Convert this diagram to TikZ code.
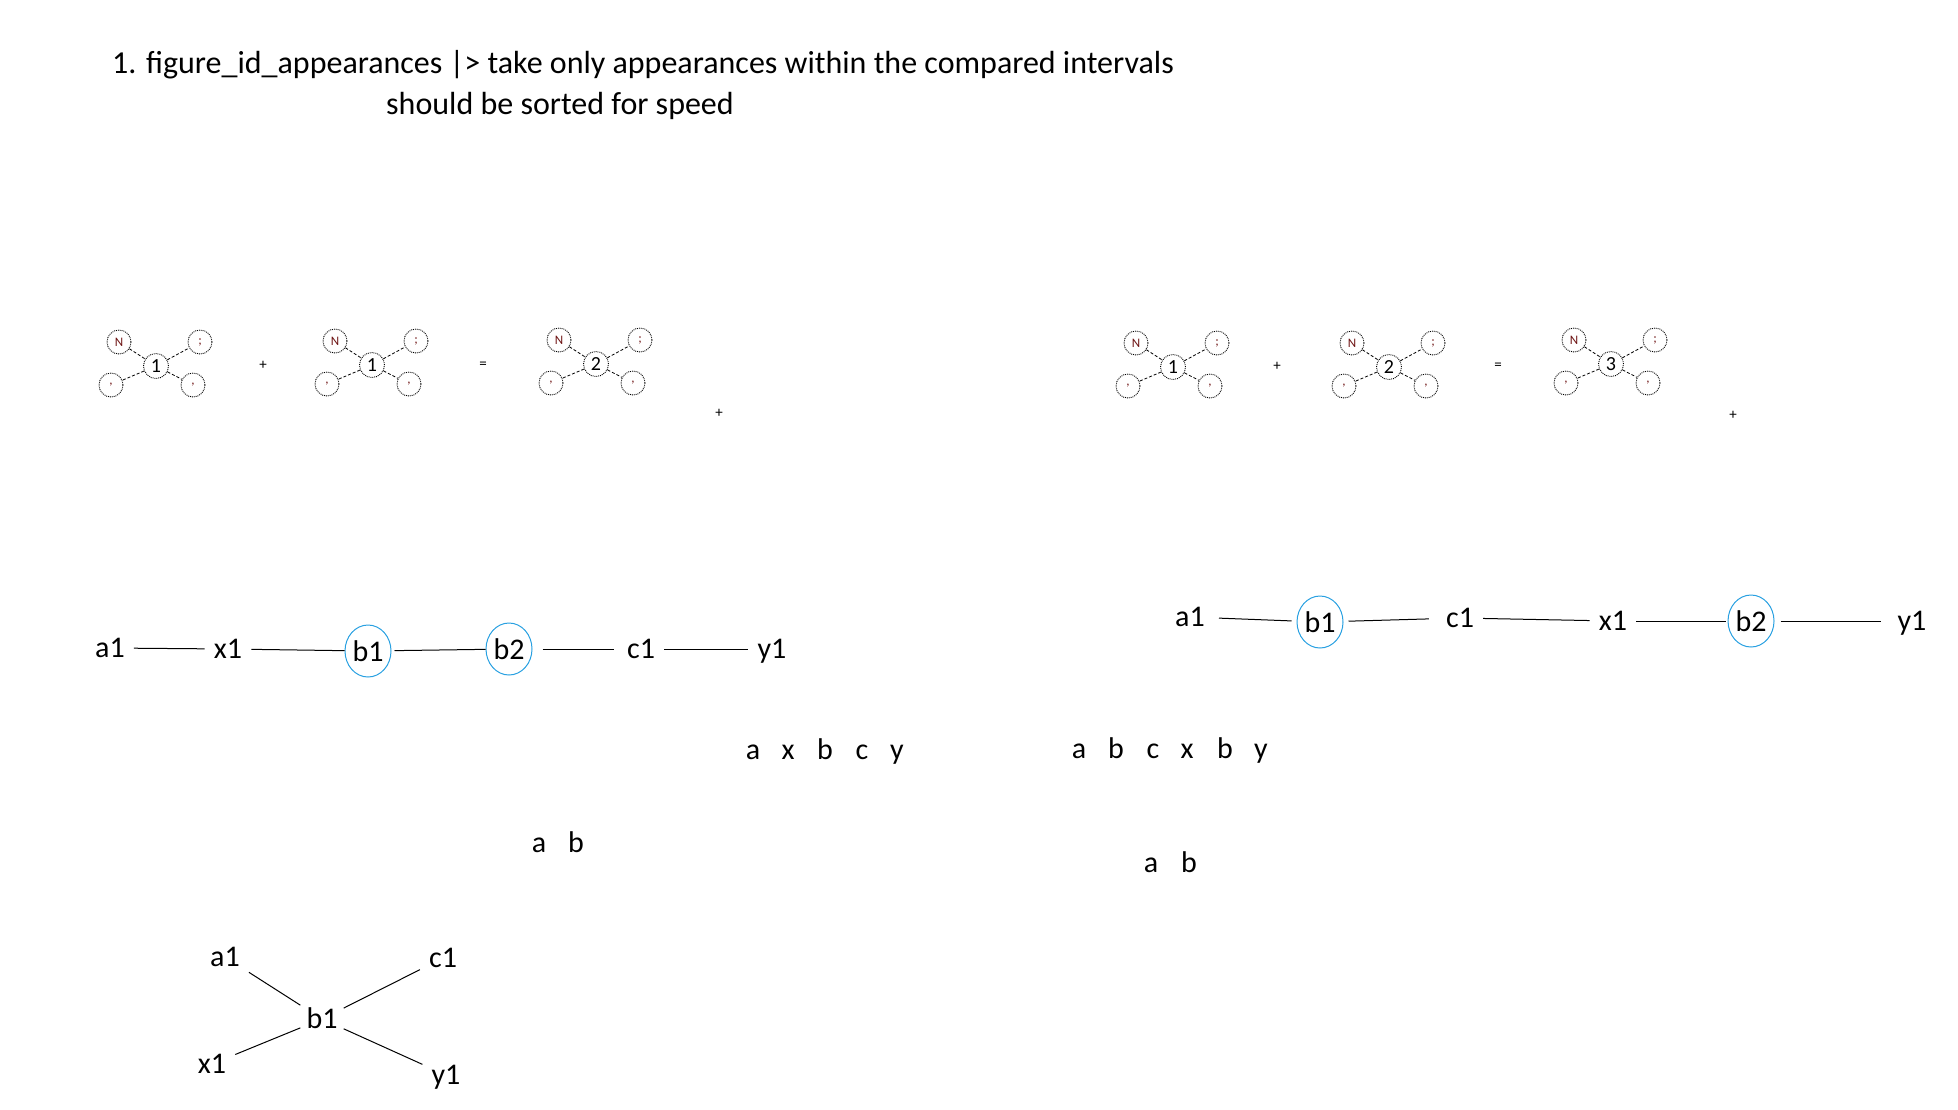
\documentclass[tikz,border=0pt]{standalone}
\usepackage{fontspec}
\setmainfont{Carlito}
\usetikzlibrary{shapes.geometric}
\definecolor{ringblue}{RGB}{40,160,225}
\definecolor{atomred}{RGB}{110,20,20}
\newcommand{\mymol}[4]{%
  \node[molc] (#1c) at (#2,#3) {#4};
  \node[mols] (#1n) at (#2-37,#3-24) {\textcolor{atomred}{N}};
  \node[mols] (#1s) at (#2+44,#3-24) {\textcolor{atomred}{;}};
  \node[mols] (#1l) at (#2-45,#3+19) {\textcolor{atomred}{,}};
  \node[mols] (#1r) at (#2+37,#3+19) {\textcolor{atomred}{,}};
  \draw[mollink] (#1n) -- (#1c);
  \draw[mollink] (#1c) -- (#1s);
  \draw[mollink] (#1c) -- (#1l);
  \draw[mollink] (#1c) -- (#1r);
}
\begin{document}
\begin{tikzpicture}[x=1pt,y=-1pt,
  title/.style={font=\fontsize{32}{38}\selectfont, inner sep=0pt, anchor=west},
  lbl/.style={font=\fontsize{30}{36}\selectfont, inner sep=9pt, text height=20pt, text depth=2pt},
  bnode/.style={ellipse, draw=ringblue, line width=1pt, minimum width=46pt, minimum height=52pt, inner sep=0pt, font=\fontsize{30}{36}\selectfont},
  link/.style={line width=1pt},
  molc/.style={circle, draw, densely dotted, line width=0.9pt, minimum size=25pt, inner sep=0pt, font=\fontsize{20}{24}\selectfont},
  mols/.style={circle, draw, densely dotted, line width=0.9pt, minimum size=24pt, inner sep=0pt, font=\fontsize{13}{15}\selectfont},
  mollink/.style={line width=0.8pt, densely dashed},
  op/.style={font=\fontsize{15}{18}\selectfont, inner sep=0pt},
  letter/.style={font=\fontsize{30}{36}\selectfont, inner sep=0pt, text height=20pt, text depth=2pt}
]
\useasboundingbox (0,0) rectangle (1958,1109);

% title
\node[title] (t1) at (112,65) {1. figure\_id\_appearances |> take only appearances within the compared intervals};
\node[title] (t2) at (386,106) {should be sorted for speed};

% molecules, left group
\mymol{ma}{156}{366}{1}
\mymol{mb}{372}{365}{1}
\mymol{mc}{596}{364}{2}
\node[op] (p1) at (263,365) {+};
\node[op] (e1) at (483,365) {=};
\node[op] (p2) at (719,413) {+};

% molecules, right group
\mymol{md}{1173}{367}{1}
\mymol{me}{1389}{367}{2}
\mymol{mf}{1611}{364}{3}
\node[op] (p3) at (1277,366) {+};
\node[op] (e2) at (1498,366) {=};
\node[op] (p4) at (1733,415) {+};

% chain 1
\node[lbl] (la1) at (110,648) {a1};
\node[lbl] (lx1) at (228,649) {x1};
\node[bnode] (lb1) at (368,651) {b1};
\node[bnode] (lb2) at (509,649) {b2};
\node[lbl] (lc1) at (641,649) {c1};
\node[lbl] (ly1) at (772,649) {y1};
\draw[link] (la1) -- (lx1);
\draw[link] (lx1) -- (lb1);
\draw[link, shorten <=3pt] (lb1) -- (lb2);
\draw[link, shorten <=10pt, shorten >=4pt] (lb2) -- (lc1);
\draw[link] (lc1) -- (ly1);

% chain 2
\node[lbl] (ra1) at (1190,617) {a1};
\node[bnode] (rb1) at (1320,622) {b1};
\node[lbl] (rc1) at (1460,618) {c1};
\node[lbl] (rx1) at (1613,621) {x1};
\node[bnode] (rb2) at (1751,621) {b2};
\node[lbl] (ry1) at (1912,621) {y1};
\draw[link, shorten <=5pt, shorten >=5pt] (ra1) -- (rb1);
\draw[link, shorten <=5pt, shorten >=8pt] (rb1) -- (rc1);
\draw[link] (rc1) -- (rx1);
\draw[link, shorten >=2pt] (rx1) -- (rb2);
\draw[link, shorten <=6pt, shorten >=7pt] (rb2) -- (ry1);

% letter rows
\node[letter] (s1) at (753,750) {a};
\node[letter] (s2) at (788,750) {x};
\node[letter] (s3) at (825,750) {b};
\node[letter] (s4) at (862,750) {c};
\node[letter] (s5) at (897,750) {y};

\node[letter] (u1) at (1079,749) {a};
\node[letter] (u2) at (1116,749) {b};
\node[letter] (u3) at (1153,749) {c};
\node[letter] (u4) at (1187,749) {x};
\node[letter] (u5) at (1225,749) {b};
\node[letter] (u6) at (1261,749) {y};

\node[letter] (v1) at (539,843) {a};
\node[letter] (v2) at (576,843) {b};

\node[letter] (w1) at (1151,863) {a};
\node[letter] (w2) at (1189,863) {b};

% star
\node[lbl] (sa1) at (225,957) {a1};
\node[lbl] (sc1) at (443,958) {c1};
\node[lbl, inner sep=6pt] (sb1) at (322,1019) {b1};
\node[lbl] (sx1) at (212,1064) {x1};
\node[lbl] (sy1) at (446,1075) {y1};
\draw[link] (sa1) -- (sb1);
\draw[link] (sc1) -- (sb1);
\draw[link] (sx1) -- (sb1);
\draw[link] (sy1) -- (sb1);
\end{tikzpicture}
\end{document}
